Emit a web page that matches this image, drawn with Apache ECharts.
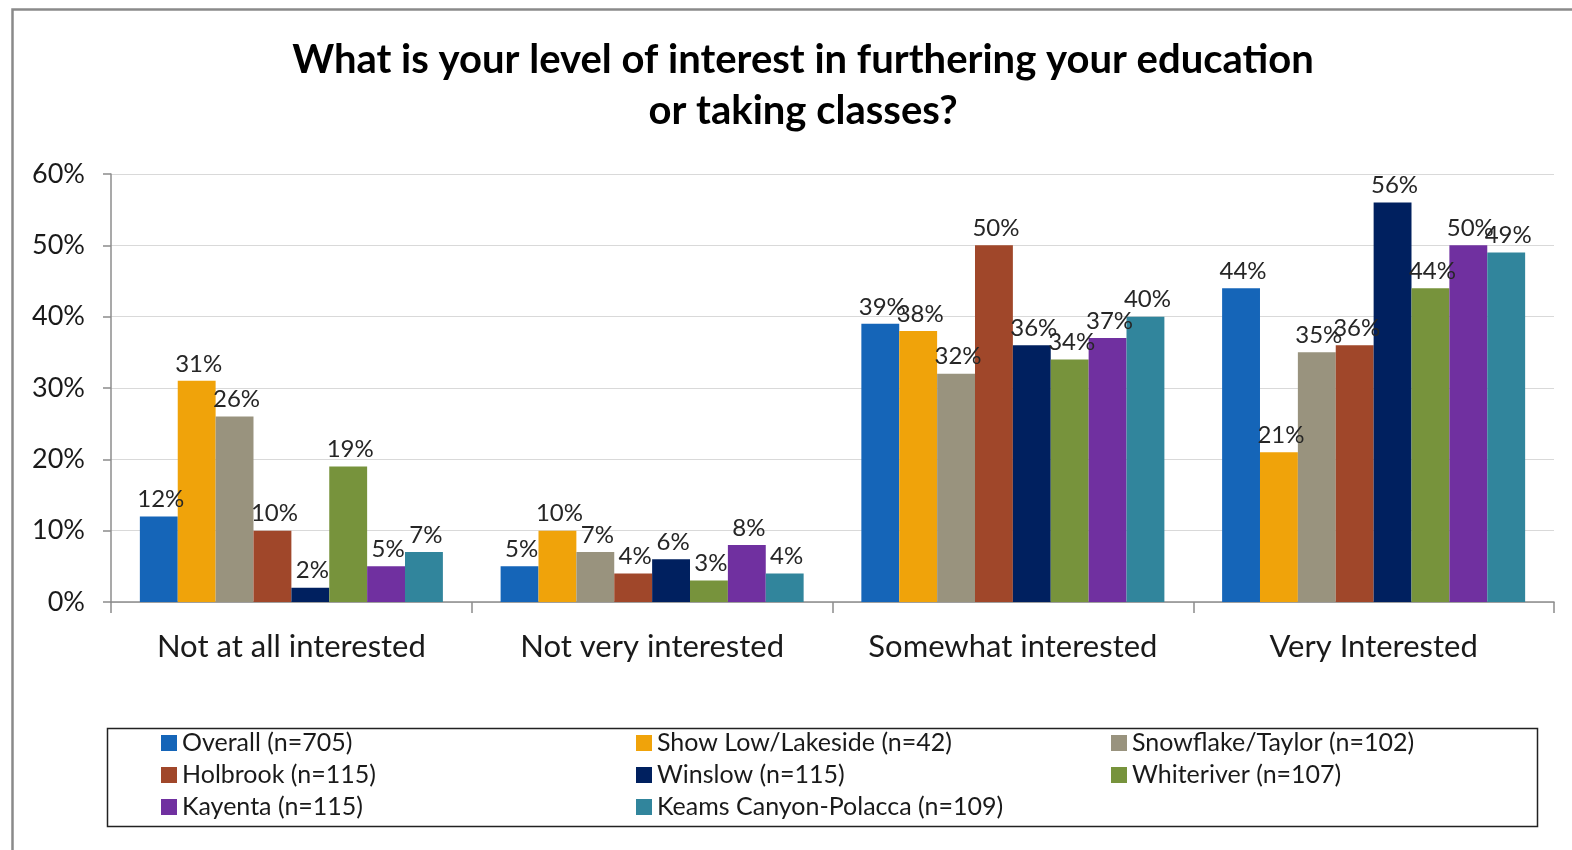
<!DOCTYPE html>
<html>
<head>
<meta charset="utf-8">
<script src="https://cdn.jsdelivr.net/npm/echarts@6/dist/echarts.min.js"></script>
<style>
  html, body { margin: 0; padding: 0; background: #fff; }
  #chart { width: 1572px; height: 850px; }
</style>
</head>
<body>
<div id="chart"></div>
<script>
// Survey responses by community, percent of respondents
const categories = ['Not at all interested', 'Not very interested', 'Somewhat interested', 'Very Interested'];
const seriesNames = [
  'Overall (n=705)',
  'Show Low/Lakeside (n=42)',
  'Snowflake/Taylor (n=102)',
  'Holbrook (n=115)',
  'Winslow (n=115)',
  'Whiteriver (n=107)',
  'Kayenta (n=115)',
  'Keams Canyon-Polacca (n=109)'
];
const overall    = [12, 5, 39, 44];
const showLow    = [31, 10, 38, 21];
const snowflake  = [26, 7, 32, 35];
const holbrook   = [10, 4, 50, 36];
const winslow    = [2, 6, 36, 56];
const whiteriver = [19, 3, 34, 44];
const kayenta    = [5, 8, 37, 50];
const keams      = [7, 4, 40, 49];
const seriesValues = [overall, showLow, snowflake, holbrook, winslow, whiteriver, kayenta, keams];
const colors = ['#1565B8', '#F0A30A', '#99937E', '#A0472A', '#00205F', '#77933C', '#7030A0', '#31859C'];
const yTicks = [0, 10, 20, 30, 40, 50, 60];

const FONT = 'Lato, "Open Sans", sans-serif';
const chart = echarts.init(document.getElementById('chart'));

const series = seriesNames.map((name, i) => ({
  name: name,
  type: 'bar',
  data: seriesValues[i],
  barGap: '0%',
  barCategoryGap: '16%',
  itemStyle: { color: colors[i] },
  label: {
    show: true,
    position: 'top',
    distance: 5,
    offset: [2, 0],
    formatter: '{c}%',
    fontFamily: FONT,
    fontSize: 24,
    color: '#262626'
  }
}));

chart.setOption({
  animation: false,
  backgroundColor: '#fff',
  color: colors,
  title: {
    text: 'What is your level of interest in furthering your education\nor taking classes?',
    left: 798,
    top: 30,
    textAlign: 'center',
    textStyle: {
      fontFamily: FONT,
      fontSize: 40,
      fontWeight: 'bold',
      color: '#000',
      lineHeight: 51
    }
  },
  grid: { left: 111, right: 18, top: 174, bottom: 248, containLabel: false },
  xAxis: {
    type: 'category',
    data: categories,
    axisLine: { lineStyle: { color: '#8c8c8c', width: 1.5 } },
    axisTick: { show: true, length: 11, lineStyle: { color: '#8c8c8c', width: 1.5 } },
    axisLabel: { interval: 0, margin: 29, fontFamily: FONT, fontSize: 31, color: '#1a1a1a' }
  },
  yAxis: {
    type: 'value',
    min: yTicks[0],
    max: yTicks[yTicks.length - 1],
    interval: 10,
    axisLine: { show: true, lineStyle: { color: '#8c8c8c', width: 1.5 } },
    axisTick: { show: true, length: 8, lineStyle: { color: '#8c8c8c', width: 1.5 } },
    splitLine: { lineStyle: { color: '#d9d9d9', width: 1.2 } },
    axisLabel: { margin: 26, formatter: '{value}%', fontFamily: FONT, fontSize: 27, color: '#1a1a1a' }
  },
  legend: {
    data: seriesNames,
    left: 161,
    top: 727,
    width: 1440,
    orient: 'horizontal',
    itemGap: 0,
    itemWidth: 16,
    itemHeight: 16,
    icon: 'rect',
    padding: 0,
    formatter: name => '{t|' + name + '}',
    textStyle: {
      fontFamily: FONT,
      fontSize: 25,
      lineHeight: 32,
      color: '#1a1a1a',
      rich: {
        t: { width: 454, height: 32, lineHeight: 32, fontFamily: FONT, fontSize: 25, color: '#1a1a1a' }
      }
    }
  },
  graphic: [
    {
      type: 'rect',
      left: 10, top: 7,
      shape: { width: 1600, height: 900 },
      style: { fill: 'none', stroke: '#8a8a8a', lineWidth: 2.5 },
      silent: true
    },
    {
      type: 'rect',
      left: 105, top: 726,
      shape: { width: 1430, height: 98 },
      style: { fill: 'none', stroke: '#222', lineWidth: 1.5 },
      silent: true
    }
  ],
  series: series
});
</script>
</body>
</html>
